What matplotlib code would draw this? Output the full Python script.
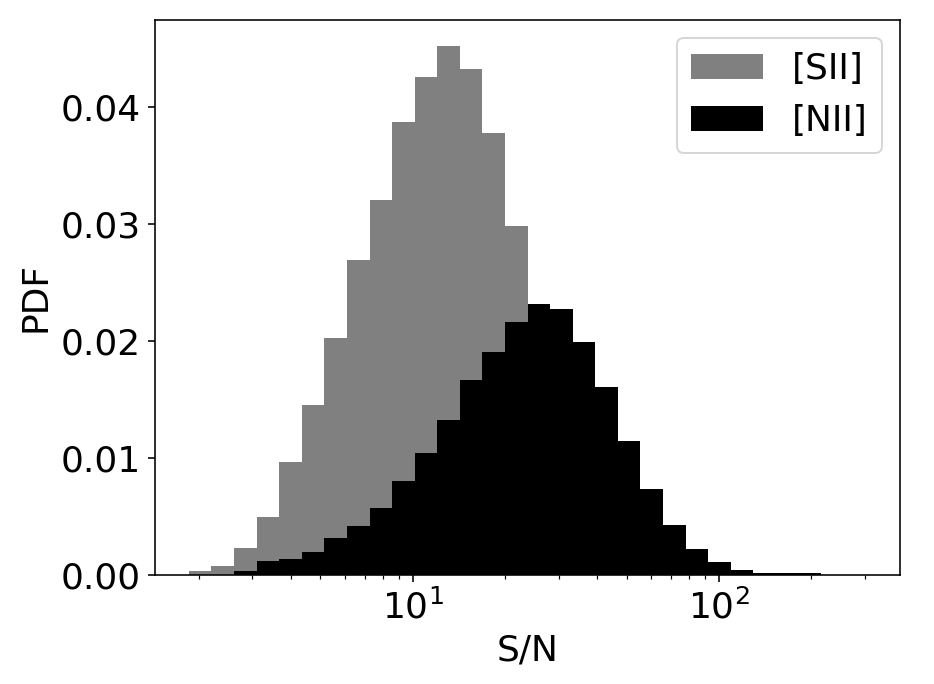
import numpy as np
import matplotlib
matplotlib.use("Agg")
import matplotlib.pyplot as plt

# ── Binning: 30 log-spaced bins over the S/N range ──────────────────────────
LOG_SN_MIN = 0.2695
LOG_SN_MAX = 2.4816
N_BINS = 30

# ── PDF values per bin ──────────────────────────────────────────────────────
pdf_sii = [0.0003, 0.00074, 0.00228, 0.00496, 0.00969, 0.01456, 0.0203,
           0.0269, 0.0321, 0.0387, 0.0426, 0.0452, 0.0433, 0.0378, 0.0298,
           0.0210, 0.0135, 0.0078, 0.0040, 0.0019, 0.0008, 0.0003, 0.0001,
           0.00005, 0.00002, 0.00001, 0.0, 0.0, 0.0, 0.0]
pdf_nii = [0.0, 0.0, 0.0003, 0.00123, 0.00137, 0.0020, 0.00314, 0.00419,
           0.0057, 0.00803, 0.01046, 0.01328, 0.01664, 0.01906, 0.0216,
           0.02314, 0.02274, 0.01995, 0.01607, 0.01149, 0.00738, 0.00431,
           0.00226, 0.00109, 0.00043, 0.00017, 0.00017, 0.00017, 0.000005,
           0.000002]

labels = ["[SII]", "[NII]"]
colors = ["gray", "black"]

edges = np.logspace(LOG_SN_MIN, LOG_SN_MAX, N_BINS + 1)
centers = np.sqrt(edges[:-1] * edges[1:])

DPI = 144
fig = plt.figure(figsize=(934 / DPI, 684 / DPI), dpi=DPI)
ax = fig.add_axes([0.166, 0.1594, 0.7976, 0.8114])

for vals, lab, col in zip([pdf_sii, pdf_nii], labels, colors):
    ax.hist(centers, bins=edges, weights=vals, color=col, label=lab)

ax.set_xscale("log")
ax.set_xlabel("S/N", fontsize=18)
ax.set_ylabel("PDF", fontsize=18)
ax.tick_params(axis="both", which="major", labelsize=18)
ax.legend(loc="upper right", fontsize=18)

fig.savefig("out.png", dpi=DPI)
